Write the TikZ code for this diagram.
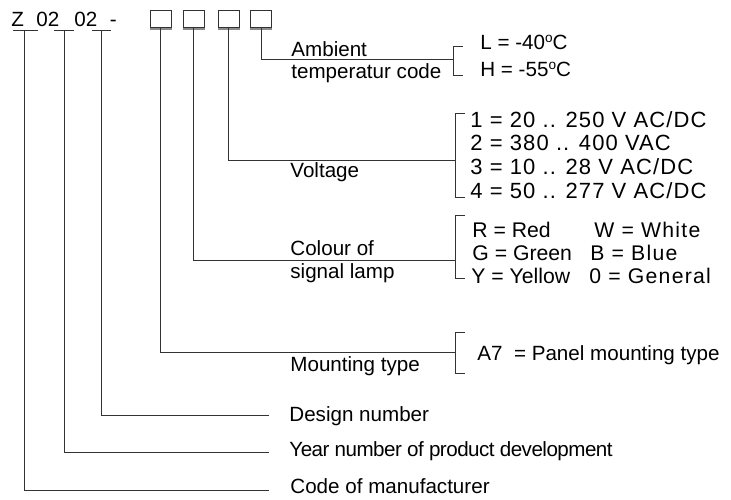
\documentclass[tikz,border=0pt]{standalone}
\usepackage{fontspec}
\setmainfont{Liberation Sans}
\usetikzlibrary{positioning}
\tikzset{
  txt/.style={font=\fontsize{10.3}{12}\selectfont,inner sep=0pt,anchor=base west},
  opt/.style={txt,font=\fontsize{10.6}{12}\selectfont\addfontfeature{LetterSpace=#1}},
  opt/.default=0,
  volt/.style={txt,font=\fontsize{11}{12}\selectfont\addfontfeature{LetterSpace=5}},
  digitbox/.style={draw=black!80,line width=0.5pt,minimum width=10.5pt,minimum height=8.5pt,inner sep=0pt},
  lead/.style={draw=black!80,line width=0.5pt},
}
\newcommand{\optbracket}[3]{\draw[lead] (#1+10,#2) -- (#1,#2) -- (#1,#3) -- (#1+10,#3);}
\newcommand{\dego}{\raisebox{0.32em}{\fontsize{6.8}{7}\selectfont o}}

\begin{document}
\begin{tikzpicture}[x=0.5pt,y=-0.5pt]
  \useasboundingbox (0,0) rectangle (731,499);
  % type code
  \node[txt] (kz) at (11,26.7) {Z};
  \node[txt] (ky) at (36,26.7) {02};
  \node[txt] (kd) at (74,26.7) {02};
  \node[txt] (kh) at (109.5,26.7) {-};
  \draw[lead] (13,30) -- (38,30); \draw[lead] (54,30) -- (74,30); \draw[lead] (92,30) -- (111,30);
  \coordinate (uz) at (24,30); \coordinate (uy) at (64,30); \coordinate (ud) at (101,30);
  \foreach \n/\x in {1/160.5,2/193.5,3/228.5,4/261} {
    \node[digitbox] (b\n) at (\x,18.5) {};
    \draw[black!45,line width=0.9pt] ([yshift=-0.9pt]b\n.south west) -- ([yshift=-0.9pt]b\n.south east);
  }
  % ambient temperature
  \node[txt] (amb) at (291,56) {Ambient};
  \node[txt] (tmp) at (291,78) {temperatur code};
  \coordinate (tb) at (453,59);
  \optbracket{453}{46}{75}
  \node[txt] (tl) at (480,49) {L = -40\dego C};
  \node[txt] (th) at (480,76) {H = -55\dego C};
  \draw[lead] (b4.south) |- (tb);
  % voltage
  \node[txt] (volt) at (290,177) {Voltage};
  \coordinate (vb) at (455,160);
  \optbracket{455}{113}{197}
  \node[volt] (v1) at (470,127) {1 = 20 .. 250 V AC/DC};
  \node[volt] (v2) at (470,150.7) {2 = 380 .. 400 VAC};
  \node[volt] (v3) at (470,174.3) {3 = 10 .. 28 V AC/DC};
  \node[volt] (v4) at (470,198) {4 = 50 .. 277 V AC/DC};
  \draw[lead] (b3.south) |- (vb);
  % signal lamp colour
  \node[txt] (col) at (290,255) {Colour of};
  \node[txt] (lmp) at (290,278) {signal lamp};
  \coordinate (cb) at (455,260);
  \optbracket{455}{215}{278}
  \node[opt] (cr) at (472,237) {R = Red};
  \node[opt] (cg) at (472,260) {G = Green};
  \node[opt] (cy) at (471,283) {Y = Yellow};
  \node[opt=6] (cw) at (594,237) {W = White};
  \node[opt=6] (cbl) at (590,260) {B = Blue};
  \node[opt=6] (c0) at (589,283) {0 = General};
  \draw[lead] (b2.south) |- (cb);
  % mounting
  \node[txt] (mnt) at (290,371) {Mounting type};
  \coordinate (mb) at (455,352);
  \optbracket{455}{332}{373}
  \node[txt] (a7) at (477,360) {A7\ \ = Panel mounting type};
  \draw[lead] (b1.south) |- (mb);
  % design, year, manufacturer
  \node[txt] (dsg) at (289,421) {Design number};
  \node[txt,font=\fontsize{10.3}{12}\selectfont\addfontfeature{LetterSpace=-2.5}] (yr) at (289,456) {Year number of product development};
  \node[txt] (mfr) at (290,493) {Code of manufacturer};
  \coordinate (de) at (269,415); \coordinate (ye) at (269,452); \coordinate (me) at (269,490);
  \draw[lead] (ud) |- (de);
  \draw[lead] (uy) |- (ye);
  \draw[lead] (uz) |- (me);
\end{tikzpicture}
\end{document}
